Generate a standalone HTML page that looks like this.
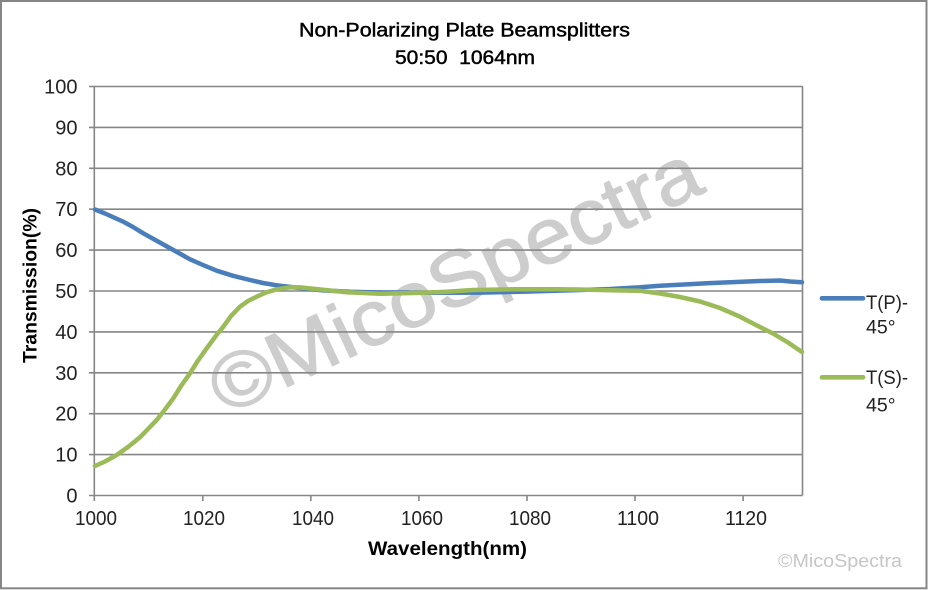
<!DOCTYPE html>
<html>
<head>
<meta charset="utf-8">
<style>
  html, body { margin: 0; padding: 0; background: #ffffff; }
  svg { display: block; }
  text { font-family: "Liberation Sans", "Noto Sans CJK SC", sans-serif; }
</style>
</head>
<body>
<svg width="931" height="590" viewBox="0 0 931 590" xmlns="http://www.w3.org/2000/svg">
  <rect x="0" y="0" width="931" height="590" fill="#ffffff"/>
  <!-- outer frame -->
  <rect x="1" y="1" width="925.5" height="587.3" fill="none" stroke="#868686" stroke-width="2"/>

  <!-- title -->
  <text x="464.5" y="36.7" font-size="19" fill="#000" stroke="#000" stroke-width="0.45" text-anchor="middle" textLength="331" lengthAdjust="spacingAndGlyphs">Non-Polarizing Plate Beamsplitters</text>
  <text x="465" y="64" font-size="19" fill="#000" stroke="#000" stroke-width="0.45" text-anchor="middle" textLength="140" lengthAdjust="spacingAndGlyphs" xml:space="preserve">50:50  1064nm</text>

  <!-- gridlines -->
  <g stroke="#868686" stroke-width="1.6" fill="none">
    <line x1="89" y1="86.5" x2="802.5" y2="86.5"/>
    <line x1="89" y1="127.4" x2="802.5" y2="127.4"/>
    <line x1="89" y1="168.3" x2="802.5" y2="168.3"/>
    <line x1="89" y1="209.2" x2="802.5" y2="209.2"/>
    <line x1="89" y1="250.1" x2="802.5" y2="250.1"/>
    <line x1="89" y1="291" x2="802.5" y2="291"/>
    <line x1="89" y1="331.9" x2="802.5" y2="331.9"/>
    <line x1="89" y1="372.8" x2="802.5" y2="372.8"/>
    <line x1="89" y1="413.7" x2="802.5" y2="413.7"/>
    <line x1="89" y1="454.6" x2="802.5" y2="454.6"/>
    <line x1="89" y1="495.5" x2="802.5" y2="495.5"/>
    <!-- axes -->
    <line x1="94.3" y1="86" x2="94.3" y2="501"/>
    <line x1="802.5" y1="86" x2="802.5" y2="495.5"/>
    <!-- x ticks -->
    <line x1="202.8" y1="495.5" x2="202.8" y2="501"/>
    <line x1="310.8" y1="495.5" x2="310.8" y2="501"/>
    <line x1="418.9" y1="495.5" x2="418.9" y2="501"/>
    <line x1="527" y1="495.5" x2="527" y2="501"/>
    <line x1="635" y1="495.5" x2="635" y2="501"/>
    <line x1="743.1" y1="495.5" x2="743.1" y2="501"/>
  </g>

  <!-- watermark -->
  <g opacity="0.42">
    <text x="225" y="416" font-size="78" fill="#8a8a8a" stroke="#8a8a8a" stroke-width="1.2" stroke-linejoin="round" transform="rotate(-25 225 416)" textLength="532" lengthAdjust="spacingAndGlyphs">©MicoSpectra</text>
  </g>

  <!-- y tick labels -->
  <g font-size="20" fill="#222" text-anchor="end">
    <text x="77.5" y="93.5">100</text>
    <text x="77.5" y="134.4">90</text>
    <text x="77.5" y="175.3">80</text>
    <text x="77.5" y="216.2">70</text>
    <text x="77.5" y="257.1">60</text>
    <text x="77.5" y="298">50</text>
    <text x="77.5" y="338.9">40</text>
    <text x="77.5" y="379.8">30</text>
    <text x="77.5" y="420.7">20</text>
    <text x="77.5" y="461.6">10</text>
    <text x="77.5" y="502.5">0</text>
  </g>

  <!-- x tick labels -->
  <g font-size="20" fill="#222" text-anchor="middle">
    <text x="96" y="525" textLength="42" lengthAdjust="spacingAndGlyphs">1000</text>
    <text x="204" y="525" textLength="42" lengthAdjust="spacingAndGlyphs">1020</text>
    <text x="313" y="525" textLength="42" lengthAdjust="spacingAndGlyphs">1040</text>
    <text x="422" y="525" textLength="42" lengthAdjust="spacingAndGlyphs">1060</text>
    <text x="530" y="525" textLength="42" lengthAdjust="spacingAndGlyphs">1080</text>
    <text x="638" y="525" textLength="42" lengthAdjust="spacingAndGlyphs">1100</text>
    <text x="746" y="525" textLength="42" lengthAdjust="spacingAndGlyphs">1120</text>
  </g>

  <!-- axis titles -->
  <text x="447.5" y="555" font-size="19" font-weight="bold" fill="#000" text-anchor="middle" textLength="159" lengthAdjust="spacingAndGlyphs">Wavelength(nm)</text>
  <text x="0" y="0" font-size="19.5" font-weight="bold" fill="#000" text-anchor="middle" textLength="155" lengthAdjust="spacingAndGlyphs" transform="translate(36.5 285.5) rotate(-90)">Transmission(%)</text>

  <!-- series -->
  <polyline fill="none" stroke="#4a7ebb" stroke-width="4.5" stroke-linejoin="round" stroke-linecap="round"
    points="95,209.5 105,213.5 115,218 123.3,221.7 133,227 143.3,233.3 158,241.5 173.3,250 190,259.3 203,265 216.7,270.7 233,275.8 250,280 263,283 276.7,285.3 296.7,287.6 323,290.4 350,291.8 380,292.5 430,292.7 480,292.6 530,291.5 580,290 610,289 640,287.3 660,285.7 693.3,284 706.7,283.3 730,282.3 760,281 780,280.5 790,281.5 802,282.3"/>
  <polyline fill="none" stroke="#9bbb59" stroke-width="4.5" stroke-linejoin="round" stroke-linecap="round"
    points="95,466 105,461.5 116.7,455 128,447 140,437.3 148,429 156.7,420 165,409.5 173.3,398.3 181,386 190,373.3 198,360.5 206.7,348.3 215,337 223.3,326.7 231,316 240,306.7 248,301 256.7,296.7 266,292.5 276.7,289.3 290,287.3 300,287.4 323,289.8 346.7,292.3 380,293.8 423,292.7 446.7,291.7 473,290 513.3,289.3 556.7,289.3 580,289.5 610,290.2 640,290.8 660,293.5 680,297 700,301.5 720,308 740,316.7 755,324.5 773,333.5 788,342.5 802,352"/>

  <!-- legend -->
  <line x1="822" y1="298.3" x2="863" y2="298.3" stroke="#4a7ebb" stroke-width="4.7" stroke-linecap="round"/>
  <line x1="822" y1="377.3" x2="863" y2="377.3" stroke="#9bbb59" stroke-width="4.7" stroke-linecap="round"/>
  <g font-size="19.5" fill="#222">
    <text x="866" y="309" textLength="42" lengthAdjust="spacingAndGlyphs">T(P)-</text>
    <text x="866" y="333.5">45°</text>
    <text x="866" y="384" textLength="42" lengthAdjust="spacingAndGlyphs">T(S)-</text>
    <text x="866" y="411.5">45°</text>
  </g>

  <!-- corner watermark -->
  <text x="778" y="567" font-size="18" fill="#c6c6c6" textLength="124" lengthAdjust="spacingAndGlyphs">©MicoSpectra</text>
</svg>
</body>
</html>
